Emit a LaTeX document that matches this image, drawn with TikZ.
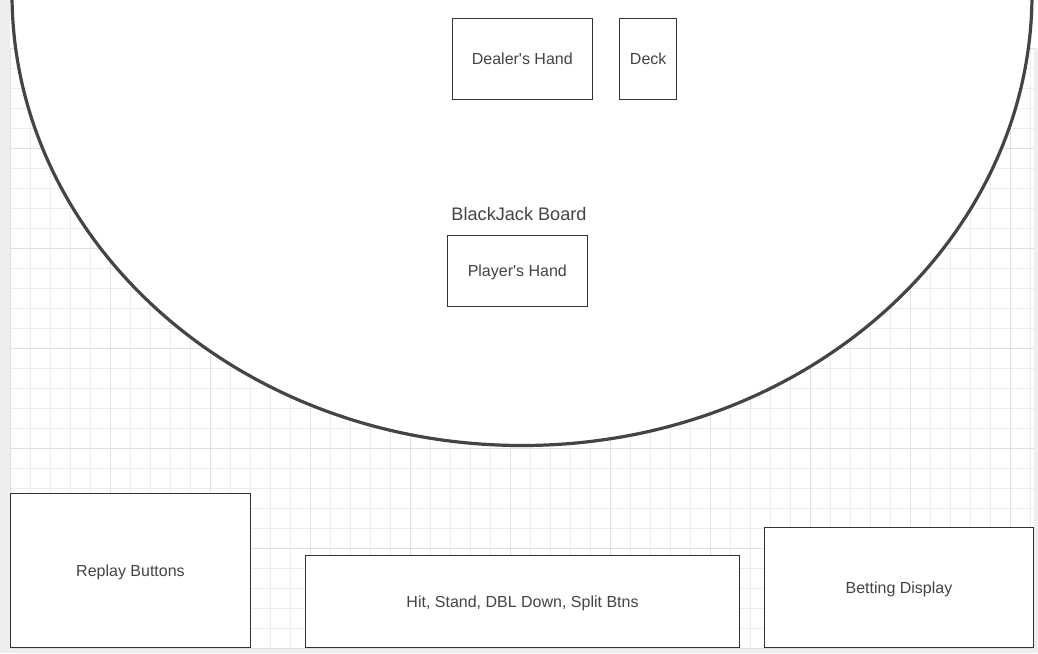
\documentclass[tikz,border=0pt]{standalone}
\usepackage{fontspec}
\setmainfont{Liberation Sans}
\definecolor{strip}{HTML}{EEEEEE}
\definecolor{gridminor}{HTML}{EDEDED}
\definecolor{gridmajor}{HTML}{E0E0E0}
\definecolor{linecol}{HTML}{333333}
\definecolor{ellcol}{HTML}{444444}
\definecolor{txtcol}{HTML}{444444}
\tikzset{
  uibox/.style 2 args={draw=linecol, line width=0.75pt, fill=white, inner sep=0pt,
    minimum width=#1*0.75pt, minimum height=#2*0.75pt, text=txtcol,
    font=\fontsize{12}{14}\selectfont, text height=0.91em, text depth=0pt},
  minorline/.style={draw=gridminor, line width=0.75pt},
  majorline/.style={draw=gridmajor, line width=0.75pt},
}
\begin{document}
\begin{tikzpicture}[x=0.75pt, y=-0.75pt]
\useasboundingbox (0,0) rectangle (1038,653);
% page background
\fill[strip] (0,0) rectangle (1038,653);
\fill[white] (10,0) rectangle (1038,48);
\fill[white] (10,48) rectangle (1034,648);
% grid
\foreach \x in {10,30,...,1030} \draw[minorline] (\x,48) -- (\x,648);
\foreach \y in {48,68,...,648} \draw[minorline] (10,\y) -- (1034,\y);
\foreach \x in {10,110,...,1010} \draw[majorline] (\x,48) -- (\x,648);
\foreach \y in {48,148,...,648} \draw[majorline] (10,\y) -- (1034,\y);
% board
\draw[draw=ellcol, line width=2.4pt, fill=white] (522,-6) ellipse [x radius=510, y radius=451.5];
\node[text=txtcol, font=\fontsize{13.6}{16}\selectfont] (boardlabel) at (519,214) {BlackJack Board};
% boxes
\node[uibox={140}{81}] (dealer) at (522.3,58.7) {Dealer\textquotesingle s Hand};
\node[uibox={57}{81}] (deck) at (648.2,58.7) {Deck};
\node[uibox={140}{71}] (player) at (517.3,270.8) {Player\textquotesingle s Hand};
\node[uibox={240}{154}] (replay) at (130.5,570.5) {Replay Buttons};
\node[uibox={434}{92}] (hit) at (522.5,601.5) {Hit, Stand, DBL Down, Split Btns};
\node[uibox={269}{120}] (betting) at (899,587.5) {Betting Display};
\end{tikzpicture}
\end{document}
